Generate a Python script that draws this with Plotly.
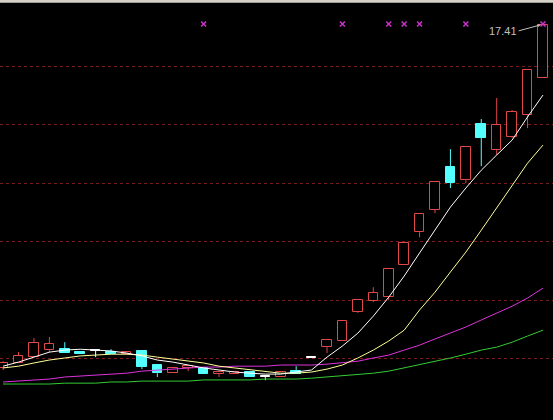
import plotly.graph_objects as go

# daily bars, index 0..35
opens = [5.68, 5.85, 6.05, 6.29, 6.32, 6.22, 6.26, 6.22, 6.17, 6.26, 5.78, 5.50, 5.68, 5.68, 5.47, 5.47, 5.54, 5.37,
         5.37, 5.57, 6.02, 6.39, 6.60, 7.59, 7.97, 8.10, 9.20, 10.32, 11.08, 12.55, 12.10, 14.02, 13.13, 13.57, 14.32, 15.59]
highs = [5.91, 6.22, 6.70, 6.74, 6.56, 6.22, 6.26, 6.32, 6.22, 6.26, 5.78, 5.68, 5.74, 5.68, 5.54, 5.54, 5.54, 5.40,
         5.54, 5.74, 6.02, 6.63, 7.28, 8.00, 8.44, 9.06, 9.95, 10.94, 12.03, 13.16, 13.23, 14.19, 14.91, 14.50, 15.86, 17.41]
lows = [5.61, 5.85, 6.05, 6.22, 6.19, 6.15, 6.05, 6.15, 6.15, 5.64, 5.37, 5.50, 5.57, 5.47, 5.37, 5.47, 5.37, 5.26,
        5.37, 5.47, 6.02, 6.19, 6.60, 7.56, 7.93, 8.00, 9.20, 10.15, 10.97, 11.83, 12.00, 12.58, 12.96, 13.54, 13.88, 15.59]
closes = [5.85, 6.09, 6.53, 6.50, 6.19, 6.15, 6.26, 6.15, 6.21, 5.71, 5.50, 5.68, 5.74, 5.47, 5.54, 5.54, 5.37, 5.37,
          5.54, 5.47, 6.02, 6.63, 7.28, 8.00, 8.24, 9.06, 9.95, 10.94, 12.03, 12.00, 13.23, 13.54, 13.98, 14.43, 15.86, 17.41]
doji_idx = [6, 17, 20]

ma5 = [5.74, 5.88, 6.05, 6.22, 6.29, 6.32, 6.29, 6.26, 6.19, 6.09, 5.95, 5.88, 5.78, 5.68, 5.61, 5.54, 5.50, 5.47,
       5.47, 5.54, 5.61, 6.05, 6.43, 6.87, 7.45, 8.10, 8.82, 9.61, 10.39, 11.18, 11.83, 12.44, 12.96, 13.47, 14.26, 15.01]
ma10 = [5.68, 5.74, 5.85, 5.95, 6.02, 6.09, 6.12, 6.15, 6.15, 6.12, 6.05, 5.98, 5.91, 5.85, 5.74, 5.68, 5.61, 5.54,
        5.50, 5.50, 5.54, 5.64, 5.78, 6.02, 6.29, 6.60, 6.97, 7.66, 8.27, 8.96, 9.64, 10.39, 11.15, 11.93, 12.68, 13.30]
ma20 = [5.20, 5.23, 5.27, 5.30, 5.37, 5.40, 5.44, 5.47, 5.50, 5.57, 5.61, 5.64, 5.68, 5.71, 5.71, 5.74, 5.74, 5.74,
        5.78, 5.78, 5.78, 5.81, 5.85, 5.91, 6.02, 6.12, 6.29, 6.46, 6.67, 6.87, 7.08, 7.32, 7.56, 7.79, 8.07, 8.41]
ma60 = [5.13, 5.13, 5.13, 5.13, 5.16, 5.16, 5.16, 5.20, 5.20, 5.23, 5.23, 5.23, 5.23, 5.27, 5.27, 5.27, 5.27, 5.30,
        5.30, 5.30, 5.33, 5.37, 5.40, 5.44, 5.50, 5.57, 5.68, 5.78, 5.91, 6.02, 6.15, 6.29, 6.39, 6.56, 6.77, 6.97]

signal_idx = [13, 22, 25, 26, 27, 30, 35]
signal_level = 17.44
grid_levels = [6, 8, 10, 12, 14, 16]

RED, CYAN, WHITE = '#e04848', '#54ffff', '#ffffff'

x = list(range(len(opens)))
colors = []
for i in x:
    if i in doji_idx:
        colors.append(WHITE)
    elif closes[i] >= opens[i]:
        colors.append(RED)
    else:
        colors.append(CYAN)

fig = go.Figure()

# wicks, split so they don't cross the hollow bodies
for col in (RED, CYAN, WHITE):
    wx, wy = [], []
    for i in x:
        if colors[i] != col:
            continue
        top, bot = max(opens[i], closes[i]), min(opens[i], closes[i])
        wx += [i, i, None, i, i, None]
        wy += [highs[i], top, None, bot, lows[i], None]
    fig.add_trace(go.Scatter(x=wx, y=wy, mode='lines', line=dict(color=col, width=1), hoverinfo='skip'))

for ma, col in [(ma60, '#33cc33'), (ma20, '#dd33dd'), (ma10, '#ffff99'), (ma5, '#ffffff')]:
    fig.add_trace(go.Scatter(x=x, y=ma, mode='lines', line=dict(color=col, width=1), hoverinfo='skip'))

# bodies
body = [max(abs(c - o), 0.02) for o, c in zip(opens, closes)]
base = [min(o, c) for o, c in zip(opens, closes)]
fills = ['#000000' if c == RED else c for c in colors]
fig.add_trace(go.Bar(x=x, y=body, base=base, width=0.62,
                     marker=dict(color=fills, line=dict(color=colors, width=1))))

fig.add_trace(go.Scatter(x=signal_idx, y=[signal_level] * len(signal_idx), mode='markers',
                         marker=dict(symbol='x-thin', size=5, line=dict(color='#cc33cc', width=1.5))))

fig.add_annotation(x=x[-1] - 0.15, y=highs[-1], ax=-22, ay=6, text=f"{highs[-1]:.2f}",
                   showarrow=True, arrowhead=2, arrowsize=0.6, arrowwidth=1, arrowcolor='#c0c0c0',
                   font=dict(color='#c0c0c0', size=11, family='Liberation Sans'),
                   xanchor='right', yanchor='middle')

fig.update_layout(
    width=553, height=420, margin=dict(l=0, r=0, t=0, b=0),
    paper_bgcolor='black', plot_bgcolor='black', showlegend=False, bargap=0,
    xaxis=dict(range=[-0.2, 35.65], showgrid=False, showticklabels=False, zeroline=False),
    yaxis=dict(range=[3.9, 18.26], tickvals=grid_levels, showticklabels=False, zeroline=False,
               gridcolor='#7a1c1c', griddash='dot', gridwidth=1),
    shapes=[dict(type='line', xref='paper', yref='paper', x0=0, x1=1, y0=0.997, y1=0.997,
                 line=dict(color='#d4d0c8', width=3))],
)

fig.write_html("out.html", config=dict(displayModeBar=False),
               post_script="document.body.style.margin='0';")
